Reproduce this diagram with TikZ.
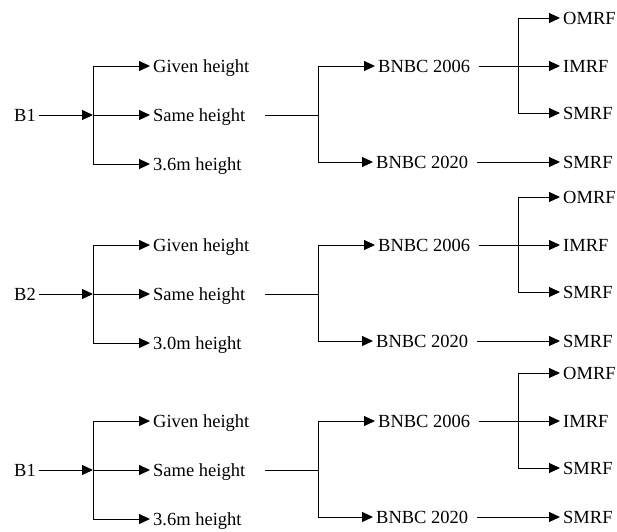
\documentclass[tikz,border=0pt]{standalone}
\usepackage{fontspec}
\setmainfont{Liberation Serif}
\usetikzlibrary{arrows.meta, positioning, calc}

\begin{document}
\begin{tikzpicture}[
  x=1pt, y=-1pt,
  font=\fontsize{18.5}{22}\selectfont,
  >={Triangle[length=11pt, width=10pt]},
  item/.style={
    inner xsep=3pt, inner ysep=0pt, anchor=west,
    text height=12pt, text depth=0pt
  },
  link/.style={line width=1pt, color=black},
  flow/.style={link, ->}
]
\useasboundingbox (0,0) rectangle (617,531);

% One tree per building
\foreach \i/\bldg/\hgt/\y in {1/B1/3.6m/115, 2/B2/3.0m/294, 3/B1/3.6m/470}{
  \begin{scope}[shift={(0,\y)}]
  % Building and height options
  \node[item] (bld\i) at (11,0) {\bldg};
  \coordinate (split\i) at (93,0);
  \node[item] (given\i) at (150,-49) {Given height};
  \node[item] (same\i) at (150,0) {Same height};
  \node[item] (third\i) at (150,49) {\hgt{} height};

  % Code options
  \coordinate (join\i) at (318,0);
  \node[item] (old\i) at (375,-49) {BNBC 2006};
  \node[item] (new\i) at (373,47) {BNBC 2020};

  % Frame types
  \coordinate (fork\i) at (518,-49);
  \node[item] (omrf\i) at (560,-97) {OMRF};
  \node[item] (imrf\i) at (560,-49) {IMRF};
  \node[item] (smrf\i) at (560,-2) {SMRF};
  \node[item] (smrfnew\i) at (560,47) {SMRF};

  % Connectors
  \draw[flow] (bld\i) -- (split\i);
  \draw[link] (split\i |- given\i.west) -- (split\i |- third\i.west);
  \draw[flow] (split\i |- given\i.west) -- (given\i);
  \draw[flow] (split\i) -- (same\i);
  \draw[flow] (split\i |- third\i.west) -- (third\i);
  \draw[link, shorten <=17pt] (same\i) -- (join\i);
  \draw[link] (join\i |- old\i.west) -- (join\i |- new\i.west);
  \draw[flow] (join\i |- old\i.west) -- (old\i);
  \draw[flow] (join\i |- new\i.west) -- (new\i);
  \draw[flow, shorten <=6pt] (old\i) -- (imrf\i);
  \draw[link] (fork\i |- omrf\i.west) -- (fork\i |- smrf\i.west);
  \draw[flow] (fork\i |- omrf\i.west) -- (omrf\i);
  \draw[flow] (fork\i |- smrf\i.west) -- (smrf\i);
  \draw[flow, shorten <=6pt] (new\i) -- (smrfnew\i);
  \end{scope}
}

\end{tikzpicture}
\end{document}
